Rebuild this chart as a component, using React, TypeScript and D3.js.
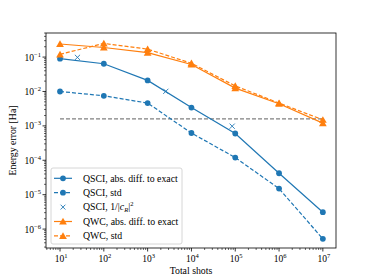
import * as d3 from 'd3'
import React, { useRef, useEffect } from 'react'

const shots = [1e1, 1e2, 1e3, 1e4, 1e5, 1e6, 1e7]
const qsciAbs = [0.09, 0.064, 0.021, 0.0034, 6e-4, 4.2e-5, 3.1e-6]
const qsciStd = [0.01, 0.0075, 0.0046, 6.2e-4, 1.2e-4, 1.5e-5, 5.2e-7]
const crossShots = [25, 2600, 85000]
const crossVals = [0.098, 0.0101, 0.00098]
const qwcAbs = [0.24, 0.19, 0.135, 0.061, 0.0125, 0.0044, 0.0012]
const qwcStd = [0.12, 0.25, 0.17, 0.066, 0.0145, 0.0046, 0.0015]
const chemAcc = 0.0016
const xTicks = [1, 2, 3, 4, 5, 6, 7]
const yTicks = [-6, -5, -4, -3, -2, -1]
const legendLabels = ['QSCI, abs. diff. to exact', 'QSCI, std', 'QSCI, 1/|', 'QWC, abs. diff. to exact', 'QWC, std']

const BLUE = '#1f77b4'
const ORANGE = '#ff7f0e'

export default function App() {
  const svgRef = useRef(null)
  const width = 374
  const height = 280
  const m = { left: 46, right: 336, top: 33, bottom: 248 }

  useEffect(() => {
    const svg = d3.select(svgRef.current)
    svg.selectAll('*').remove()
    const font = 'Liberation Serif, DejaVu Serif, serif'
    const fs = 9.8

    const x = d3.scaleLog().domain([Math.pow(10, 0.68), Math.pow(10, 7.3)]).range([m.left, m.right])
    const y = d3.scaleLog().domain([Math.pow(10, -6.55), Math.pow(10, -0.3)]).range([m.bottom, m.top])

    const g = svg.append('g')

    // minor ticks
    const xMinor: number[] = []
    for (let e = 0; e <= 7; e++) for (let k = 2; k <= 9; k++) {
      const v = k * Math.pow(10, e)
      if (v >= x.domain()[0] && v <= x.domain()[1]) xMinor.push(v)
    }
    const yMinor: number[] = []
    for (let e = -7; e <= -1; e++) for (let k = 2; k <= 9; k++) {
      const v = k * Math.pow(10, e)
      if (v >= y.domain()[0] && v <= y.domain()[1]) yMinor.push(v)
    }

    g.selectAll('.xminor').data(xMinor).join('line')
      .attr('x1', (d) => x(d)).attr('x2', (d) => x(d))
      .attr('y1', m.bottom).attr('y2', m.bottom + 2)
      .attr('stroke', '#000').attr('stroke-width', 0.6)
    g.selectAll('.xmajor').data(xTicks).join('line')
      .attr('x1', (d) => x(Math.pow(10, d))).attr('x2', (d) => x(Math.pow(10, d)))
      .attr('y1', m.bottom).attr('y2', m.bottom + 3.5)
      .attr('stroke', '#000').attr('stroke-width', 0.8)
    g.selectAll('.yminor').data(yMinor).join('line')
      .attr('x1', m.left - 2).attr('x2', m.left)
      .attr('y1', (d) => y(d)).attr('y2', (d) => y(d))
      .attr('stroke', '#000').attr('stroke-width', 0.6)
    g.selectAll('.ymajor').data(yTicks).join('line')
      .attr('x1', m.left - 3.5).attr('x2', m.left)
      .attr('y1', (d) => y(Math.pow(10, d))).attr('y2', (d) => y(Math.pow(10, d)))
      .attr('stroke', '#000').attr('stroke-width', 0.8)

    const xt = g.selectAll('.xt').data(xTicks).join('text')
      .attr('x', (d) => x(Math.pow(10, d)) + 1)
      .attr('y', m.bottom + 14)
      .attr('text-anchor', 'middle')
      .attr('font-family', font).attr('font-size', 9.5)
    xt.append('tspan').text('10')
    xt.append('tspan').attr('dy', -4).attr('font-size', 6.5).text((d) => `${d}`)

    const yt = g.selectAll('.yt').data(yTicks).join('text')
      .attr('x', m.left - 5)
      .attr('y', (d) => y(Math.pow(10, d)) + 3.5)
      .attr('text-anchor', 'end')
      .attr('font-family', font).attr('font-size', 9.5)
    yt.append('tspan').text('10')
    yt.append('tspan').attr('dy', -4).attr('font-size', 6.5).text((d) => `\u2212${-d}`)

    // chemical accuracy line
    g.append('line')
      .attr('x1', x(shots[0])).attr('x2', x(shots[shots.length - 1]))
      .attr('y1', y(chemAcc)).attr('y2', y(chemAcc))
      .attr('stroke', '#808080').attr('stroke-width', 1.1)
      .attr('stroke-dasharray', '4,2')

    const line = d3.line<[number, number]>().x((d) => x(d[0])).y((d) => y(d[1]))
    const tri = d3.symbol().type(d3.symbolTriangle).size(26)

    const drawSeries = (vals: number[], color: string, dashed: boolean, marker: 'o' | '^') => {
      const pts = shots.map((s, i) => [s, vals[i]] as [number, number])
      g.append('path').attr('d', line(pts)).attr('fill', 'none')
        .attr('stroke', color).attr('stroke-width', 1.2)
        .attr('stroke-dasharray', dashed ? '4,2' : null)
      if (marker === 'o') {
        g.selectAll(null).data(pts).join('circle')
          .attr('cx', (d) => x(d[0])).attr('cy', (d) => y(d[1])).attr('r', 2.9)
          .attr('fill', color)
      } else {
        g.selectAll(null).data(pts).join('path')
          .attr('d', tri).attr('transform', (d) => `translate(${x(d[0])},${y(d[1]) + 0.8})`)
          .attr('fill', color)
      }
    }

    drawSeries(qsciAbs, BLUE, false, 'o')
    drawSeries(qsciStd, BLUE, true, 'o')
    g.selectAll(null).data(crossShots).join('path')
      .attr('d', (d, i) => {
        const cx = x(d), cy = y(crossVals[i]), r = 2.6
        return `M${cx - r},${cy - r}L${cx + r},${cy + r}M${cx - r},${cy + r}L${cx + r},${cy - r}`
      })
      .attr('stroke', BLUE).attr('stroke-width', 0.9).attr('fill', 'none')
    drawSeries(qwcAbs, ORANGE, false, '^')
    drawSeries(qwcStd, ORANGE, true, '^')

    // frame
    g.append('rect').attr('x', m.left).attr('y', m.top)
      .attr('width', m.right - m.left).attr('height', m.bottom - m.top)
      .attr('fill', 'none').attr('stroke', '#000').attr('stroke-width', 0.8)

    // legend
    const lg = g.append('g')
    lg.append('rect').attr('x', 51).attr('y', 168).attr('width', 131).attr('height', 76)
      .attr('rx', 2).attr('fill', 'white').attr('fill-opacity', 0.8)
      .attr('stroke', '#ccc').attr('stroke-width', 0.8)
    const rowY = (i: number) => 178.3 + i * 14.4
    legendLabels.forEach((lab, i) => {
      const yy = rowY(i)
      const color = i < 3 ? BLUE : ORANGE
      if (i !== 2) {
        lg.append('line').attr('x1', 54).attr('x2', 72).attr('y1', yy).attr('y2', yy)
          .attr('stroke', color).attr('stroke-width', 1.2)
          .attr('stroke-dasharray', i === 1 || i === 4 ? '4,2' : null)
        if (i < 2) lg.append('circle').attr('cx', 63).attr('cy', yy).attr('r', 2.9).attr('fill', color)
        else lg.append('path').attr('d', tri).attr('transform', `translate(63,${yy + 0.8})`).attr('fill', color)
      } else {
        const r = 2.4
        lg.append('path').attr('d', `M${63 - r},${yy - r}L${63 + r},${yy + r}M${63 - r},${yy + r}L${63 + r},${yy - r}`)
          .attr('stroke', color).attr('stroke-width', 0.9)
      }
      const t = lg.append('text').attr('x', 83).attr('y', yy + 3.3)
        .attr('font-family', font).attr('font-size', fs).text(lab)
      if (i === 2) {
        t.append('tspan').attr('font-style', 'italic').text('c')
        t.append('tspan').attr('font-size', 6.5).attr('font-style', 'italic').attr('dy', 2).text('R')
        t.append('tspan').attr('dy', -2).text('|')
        t.append('tspan').attr('font-size', 6.5).attr('dy', -4).text('2')
      }
    })

    // axis labels
    g.append('text').attr('x', (m.left + m.right) / 2).attr('y', 274)
      .attr('text-anchor', 'middle').attr('font-family', font).attr('font-size', fs)
      .text('Total shots')
    g.append('text').attr('transform', `translate(16,${(m.top + m.bottom) / 2}) rotate(-90)`)
      .attr('text-anchor', 'middle').attr('font-family', font).attr('font-size', fs)
      .text('Energy error [Ha]')
  }, [])

  return (
    <div style={{ position: 'absolute', left: 0, top: 0 }}>
      <svg ref={svgRef} width={width} height={height} style={{ display: 'block', background: 'white' }} />
    </div>
  )
}
